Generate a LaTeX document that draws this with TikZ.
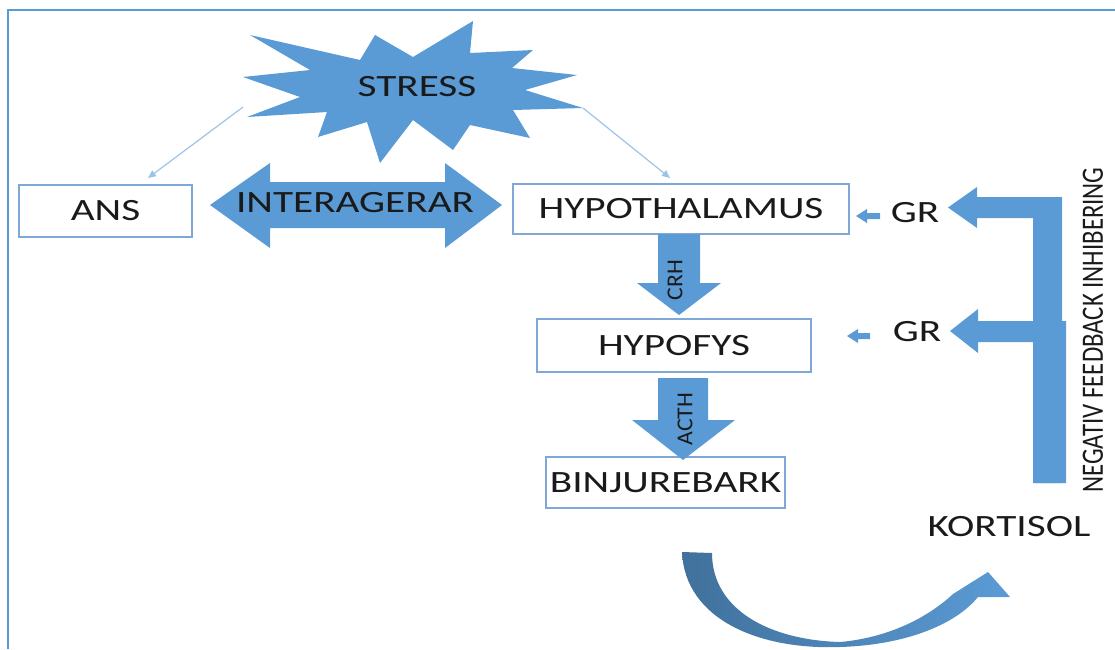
\documentclass[tikz,border=0pt]{standalone}
\usepackage{fontspec}
\setmainfont{Carlito}
\usepackage{graphicx}
\usetikzlibrary{arrows.meta}
\definecolor{fillblue}{HTML}{5B9BD5}
\definecolor{darkblue}{HTML}{41719C}
\definecolor{boxline}{HTML}{7FA7D8}
\definecolor{thinblue}{HTML}{9DC3E6}
\definecolor{txt}{HTML}{1A1A1A}
\newcommand{\wide}[1]{\scalebox{1.33}[1]{#1}}
\begin{document}
\begin{tikzpicture}[x=1pt,y=-1pt,
  box/.style={draw=boxline,line width=1.3pt,fill=white,inner sep=0pt},
  lbl/.style={font=\fontsize{31}{31}\selectfont,text=txt,inner sep=0pt},
  vlbl/.style={font=\fontsize{19}{19}\selectfont,text=txt,inner sep=0pt,rotate=90},
  blockarrow/.style={fill=fillblue,draw=none},
  thinarrow/.style={draw=thinblue,line width=1.2pt,-{Triangle[length=8pt,width=7pt]}},
  frameline/.style={draw=fillblue,line width=2pt}
]
\useasboundingbox (0,0) rectangle (1115,649);
% frame
\draw[frameline] (8,649) -- (8,10) -- (1115,10);

% STRESS star
\fill[fillblue] (250,35) -- (360,60) -- (375,35) -- (413,57) -- (473,21) -- (470,53)
  -- (533,50) -- (512,68) -- (577,75) -- (525,90) -- (583,108) -- (513,110)
  -- (530,138) -- (470,125) -- (453,150) -- (413,120) -- (380,163) -- (367,122)
  -- (318,137) -- (327,112) -- (247,117) -- (300,97) -- (243,77) -- (310,70) -- cycle;
\node[lbl] (stress) at (417,87) {\wide{STRESS}};
\coordinate (sl) at (243,107);
\coordinate (sr) at (583,108);

% boxes
\node[box,lbl,minimum width=173pt,minimum height=52pt] (ans) at (105.5,211) {\wide{ANS}};
\node[box,lbl,minimum width=336pt,minimum height=50pt] (hypo) at (681,209) {\wide{HYPOTHALAMUS}};
\node[box,lbl,minimum width=274pt,minimum height=53pt] (hypof) at (674,345.5) {\wide{HYPOFYS}};
\node[box,lbl,minimum width=239pt,minimum height=51pt] (binj) at (665.5,482.5) {\wide{BINJUREBARK}};

% thin arrows from stress
\coordinate (al) at (148,178);
\coordinate (hr) at (670,178);
\draw[thinarrow] (sl) -- (al);
\draw[thinarrow] (sr) -- (hr);

% INTERAGERAR double arrow
\fill[fillblue] (210,205) -- (270,163) -- (270,182) -- (445,182) -- (445,163) -- (502,205)
  -- (445,248) -- (445,228) -- (270,228) -- (270,248) -- cycle;
\node[lbl] (inter) at (355,203) {\wide{INTERAGERAR}};

% CRH arrow
\fill[fillblue] (658,234) -- (700,234) -- (700,283) -- (721,283) -- (679,315) -- (637,283) -- (658,283) -- cycle;
\node[vlbl] (crh) at (675,280) {\scalebox{1.25}[1.2]{CRH}};
% ACTH arrow
\fill[fillblue] (658,378) -- (708,378) -- (708,420) -- (735,420) -- (683,460) -- (632,420) -- (658,420) -- cycle;
\node[vlbl] (acth) at (685,419) {\scalebox{1.25}[1.2]{ACTH}};

% GR labels and small arrows
\node[lbl] (gr1) at (915,213) {\wide{GR}};
\node[lbl] (gr2) at (917,332) {\wide{GR}};
\fill[fillblue] (856,216) -- (867,209) -- (867,213) -- (880,213) -- (880,219) -- (867,219) -- (867,223) -- cycle;
\fill[fillblue] (847,336) -- (858,329) -- (858,333) -- (870,333) -- (870,339) -- (858,339) -- (858,343) -- cycle;

% feedback arrows
\fill[fillblue] (948,207.5) -- (977,187) -- (977,197) -- (1062,197) -- (1062,483) -- (1033,483)
  -- (1033,218) -- (977,218) -- (977,228) -- cycle;
\fill[fillblue] (950,331) -- (978,309) -- (978,321) -- (1066,321) -- (1066,483) -- (1035,483)
  -- (1035,342) -- (978,342) -- (978,353) -- cycle;

% KORTISOL and vertical text
\node[lbl] (kort) at (1009,527) {\wide{KORTISOL}};
\node[font=\fontsize{23}{23}\selectfont,text=txt,inner sep=0pt,rotate=90] (neg) at (1093,330)
  {\scalebox{1.08}[1.35]{NEGATIV FEEDBACK INHIBERING}};

% curved arrow
\shade[left color=darkblue,right color=fillblue]
  (682,552) .. controls (685,620) and (760,650) .. (840,647)
  .. controls (905,645) and (955,625) .. (978,597)
  -- (1010,597) -- (988,572) -- (953,594)
  .. controls (925,620) and (885,638) .. (840,642)
  .. controls (770,640) and (712,610) .. (712,553) -- cycle;
\end{tikzpicture}
\end{document}
